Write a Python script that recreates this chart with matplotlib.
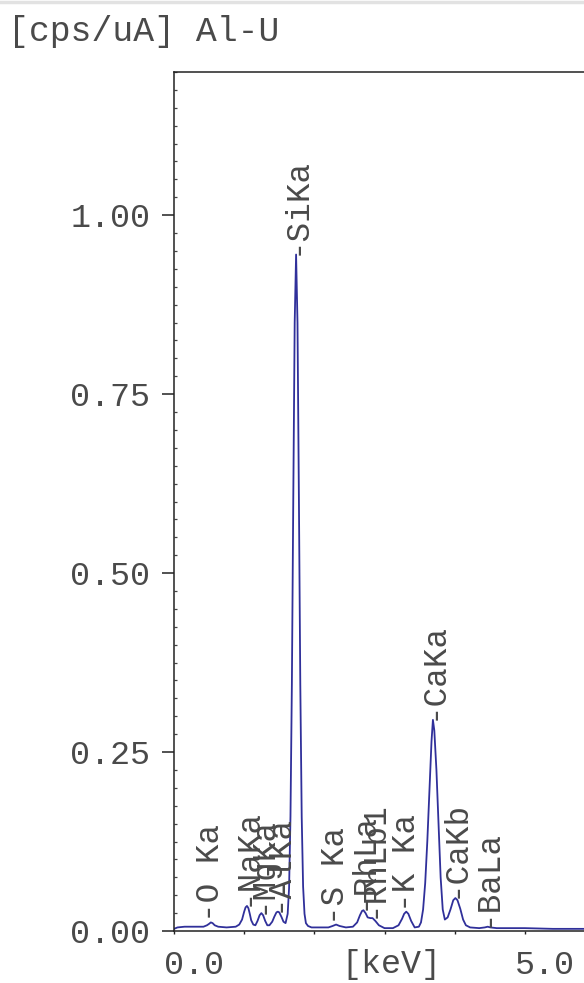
import matplotlib
matplotlib.use('Agg')
import matplotlib.pyplot as plt
import matplotlib.transforms as mtransforms
from matplotlib.lines import Line2D
from matplotlib.ticker import FixedLocator, MultipleLocator
import numpy as np

# ---------------- data ----------------
energy_kev = [0.00, 0.05, 0.15, 0.30, 0.42, 0.47, 0.50, 0.525, 0.55, 0.58,
              0.63, 0.75, 0.88, 0.93, 0.97, 1.00, 1.02, 1.04, 1.06, 1.08,
              1.10, 1.13, 1.16, 1.19, 1.22, 1.245, 1.27, 1.30, 1.33, 1.36,
              1.40, 1.43, 1.46, 1.48, 1.50, 1.53, 1.56, 1.59, 1.62, 1.64,
              1.66, 1.68, 1.70, 1.72, 1.74, 1.76, 1.78, 1.80, 1.82, 1.84,
              1.86, 1.88, 1.91, 1.96, 2.05, 2.20, 2.26, 2.31, 2.36, 2.45,
              2.55, 2.61, 2.65, 2.68, 2.70, 2.73, 2.76, 2.80, 2.83, 2.87,
              2.92, 3.00, 3.12, 3.20, 3.25, 3.28, 3.31, 3.34, 3.38, 3.43,
              3.49, 3.52, 3.55, 3.58, 3.61, 3.64, 3.67, 3.69, 3.71, 3.74,
              3.77, 3.80, 3.83, 3.86, 3.90, 3.94, 3.98, 4.01, 4.04, 4.08,
              4.12, 4.16, 4.22, 4.35, 4.43, 4.47, 4.51, 4.60, 5.00, 5.40,
              5.80, 6.00]
intensity = [0.003, 0.005, 0.006, 0.006, 0.006, 0.008, 0.010, 0.012, 0.011, 0.008,
             0.006, 0.005, 0.006, 0.009, 0.016, 0.027, 0.033, 0.035, 0.032, 0.024,
             0.015, 0.009, 0.008, 0.014, 0.022, 0.025, 0.022, 0.014, 0.008, 0.008,
             0.013, 0.020, 0.026, 0.027, 0.026, 0.020, 0.013, 0.011, 0.024, 0.060,
             0.160, 0.345, 0.605, 0.850, 0.945, 0.850, 0.605, 0.345, 0.160, 0.062,
             0.024, 0.011, 0.007, 0.005, 0.005, 0.005, 0.007, 0.009, 0.007, 0.005,
             0.006, 0.012, 0.022, 0.028, 0.029, 0.025, 0.019, 0.018, 0.018, 0.014,
             0.008, 0.004, 0.004, 0.008, 0.017, 0.024, 0.027, 0.024, 0.014, 0.005,
             0.006, 0.012, 0.030, 0.067, 0.125, 0.195, 0.265, 0.295, 0.280, 0.225,
             0.150, 0.075, 0.030, 0.016, 0.019, 0.030, 0.043, 0.046, 0.043, 0.031,
             0.016, 0.008, 0.005, 0.004, 0.005, 0.006, 0.005, 0.004, 0.004, 0.003,
             0.003, 0.003]

line_names = ['-O Ka', '-NaKa', '-MgKa', '-AlKa', '-SiKa', '-S Ka',
              '-RhLa', '-RhLb1', '-K Ka', '-CaKa', '-CaKb', '-BaLa']
line_energies = [0.525, 1.041, 1.254, 1.486, 1.740, 2.307,
                 2.697, 2.834, 3.313, 3.691, 4.012, 4.466]

y_tick_values = [0.00, 0.25, 0.50, 0.75, 1.00]
y_tick_labels = ['0.00', '0.25', '0.50', '0.75', '1.00']
x_tick_values = [0.0, 5.0]
x_tick_labels = ['0.0', '5.0']

title_text = '[cps/uA] Al-U'
x_label_text = '[keV]'

# ---------------- styling ----------------
FONT = ['Liberation Mono', 'DejaVu Sans Mono']
TXT = '#4a4a4a'
LINE = '#30309a'
FS = 24

W, H = 584, 983
fig = plt.figure(figsize=(W / 100, H / 100), dpi=100)
fig.patch.set_facecolor('white')

# axes extends beyond the right edge of the picture (cropped like the reference)
ax = fig.add_axes([174 / W, (H - 931) / H, 421 / W, (931 - 72) / H])
ax.plot(energy_kev, intensity, color=LINE, lw=1.3, solid_joinstyle='round')
ax.set_xlim(0, 6.0)
ax.set_ylim(0, 1.2)

for side in ['left', 'top', 'bottom', 'right']:
    ax.spines[side].set_color('#222222')
    ax.spines[side].set_linewidth(1.1)

ax.yaxis.set_major_locator(FixedLocator(y_tick_values))
ax.set_yticklabels(y_tick_labels, family=FONT, fontsize=FS, color=TXT)
ax.yaxis.set_minor_locator(MultipleLocator(0.025))
ax.tick_params(axis='y', which='major', direction='out', length=9, width=1.1,
               pad=8, color='#222222')
ax.tick_params(axis='y', which='minor', direction='in', length=2.5, width=0.9,
               color='#444444')

ax.xaxis.set_major_locator(FixedLocator(x_tick_values))
ax.set_xticklabels(x_tick_labels, family=FONT, fontsize=FS, color=TXT)
ax.xaxis.set_minor_locator(MultipleLocator(1.0))
ax.tick_params(axis='x', which='both', direction='out', length=2.5, width=1.0,
               pad=11, color='#222222')
ax.tick_params(top=False, right=False)

offset = mtransforms.ScaledTranslation(-10 / 100, 0, fig.dpi_scale_trans)
for lab in ax.get_xticklabels():
    lab.set_horizontalalignment('left')
    lab.set_transform(lab.get_transform() + offset)

ax.set_xlabel(x_label_text, family=FONT, fontsize=FS, color=TXT)
ax.xaxis.label.set_verticalalignment('center')
ax.xaxis.set_label_coords((391 - 174) / 421, -(964 - 931) / (931 - 72))

# peak labels (they overlap in the reference too)
for name, e in zip(line_names, line_energies):
    y = float(np.interp(e, energy_kev, intensity))
    ax.text(e, y, name, rotation=90, ha='center', va='bottom',
            family=FONT, fontsize=FS - 0.5, color=TXT)

fig.text(8 / W, 1 - 32 / H, title_text, family=FONT, fontsize=FS + 1,
         color=TXT, ha='left', va='center')

fig.add_artist(Line2D([0, 1], [1 - 1.5 / H, 1 - 1.5 / H], color='#e2e2e2',
                      lw=2.5, transform=fig.transFigure))

fig.savefig('out.png', dpi=100)
